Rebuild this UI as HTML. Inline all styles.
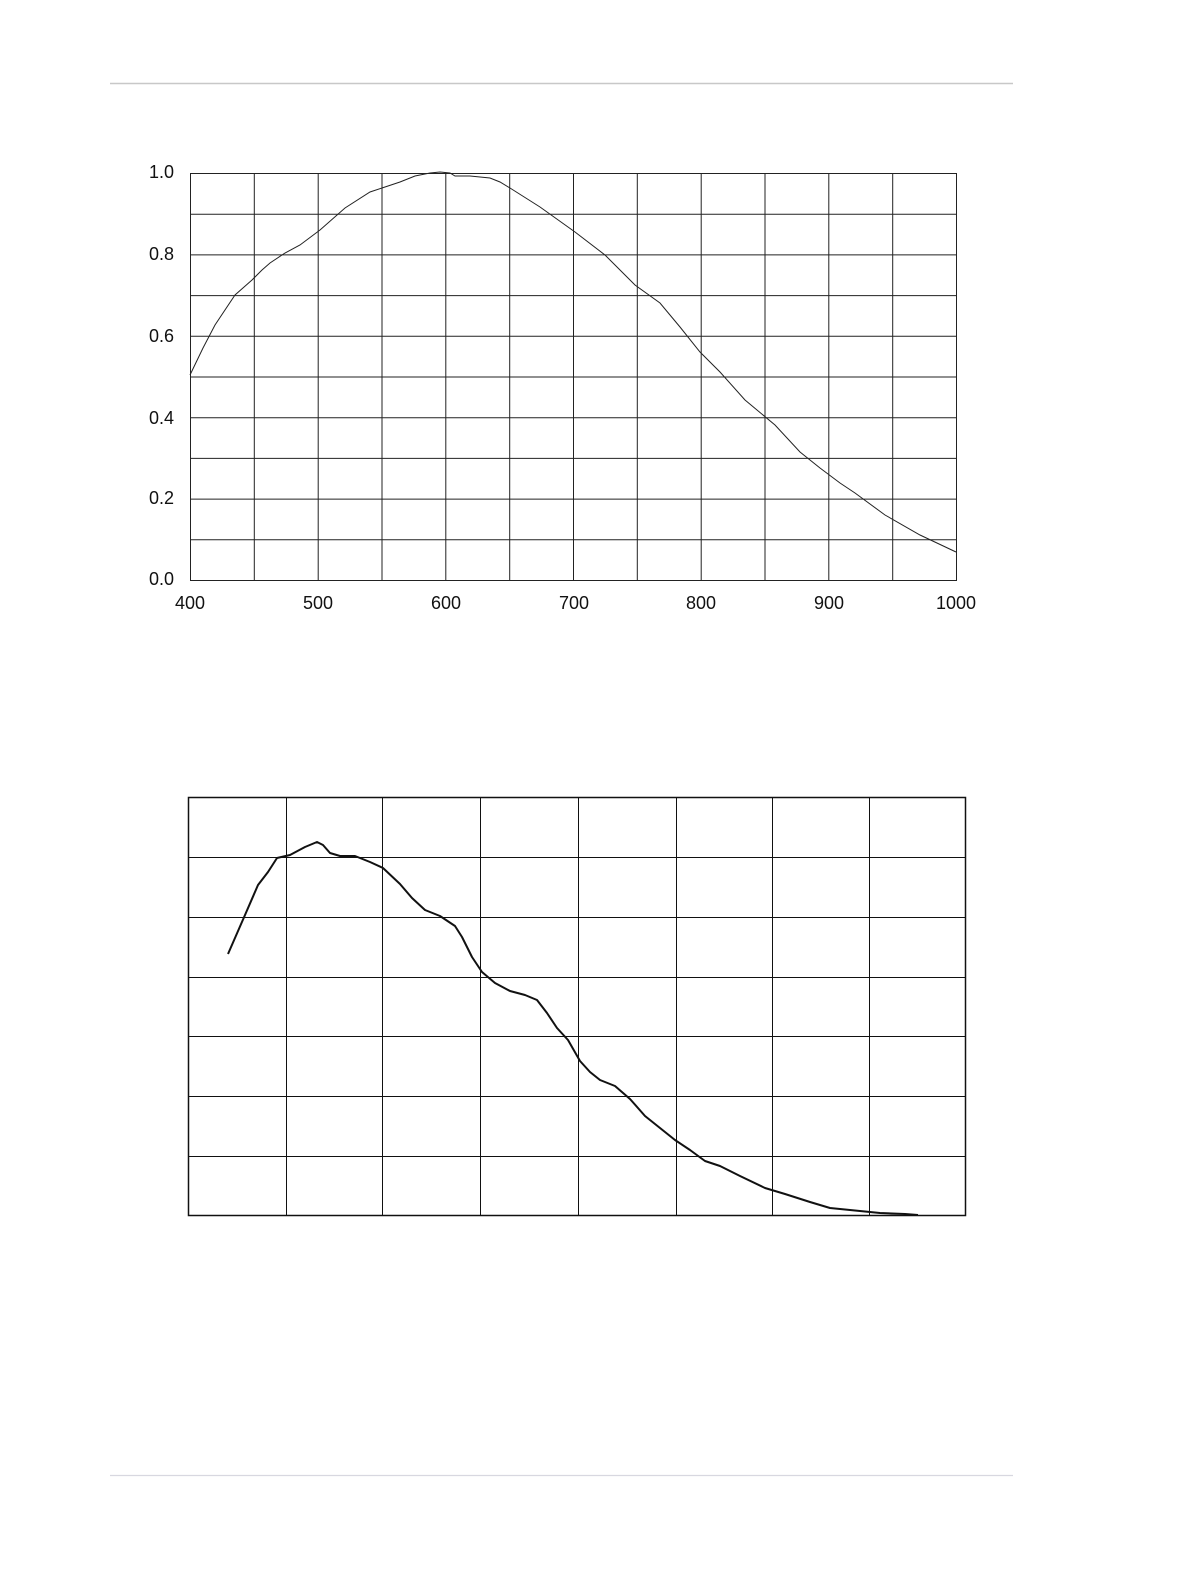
<!DOCTYPE html>
<html><head><meta charset="utf-8"><style>
html,body{margin:0;padding:0;background:#fff;}
svg{display:block;}
text{font-family:"Liberation Sans",Arial,sans-serif;font-size:18px;fill:#111;}
</style></head><body>
<svg width="1190" height="1580" viewBox="0 0 1190 1580" xmlns="http://www.w3.org/2000/svg">
<line x1="110" y1="83.5" x2="1013" y2="83.5" stroke="#c8c8c8" stroke-width="1.5"/>
<line x1="110" y1="1475.5" x2="1013" y2="1475.5" stroke="#d8d8e0" stroke-width="1.2"/>

<g stroke="#222" stroke-width="1" fill="none">
<rect x="190.5" y="173.5" width="766" height="407"/>
<path d="M254.3 173V580M318.2 173V580M382 173V580M445.8 173V580M509.7 173V580M573.5 173V580M637.3 173V580M701.2 173V580M765 173V580M828.8 173V580M892.7 173V580"/>
<path d="M190 214.2H956M190 254.9H956M190 295.6H956M190 336.3H956M190 377H956M190 417.7H956M190 458.4H956M190 499.1H956M190 539.8H956"/>
<polyline stroke-width="1" points="190,375 203,348 215,325 235,295 252,280 262,270 270,263 285,253 300,245 320,230 345,208 370,192 385,187 400,182 415,176 430,173 440,172 450,173 455,176 470,176 490,178 500,182 510,188 540,207 575,232 605,255 620,270 635,285 660,303 680,327 700,352 720,372 745,400 775,425 800,452 820,468 840,483 855,493 885,515 920,535 956,552"/>
</g>
<g text-anchor="end">
<text x="174" y="178">1.0</text><text x="174" y="260">0.8</text><text x="174" y="342">0.6</text>
<text x="174" y="424">0.4</text><text x="174" y="504">0.2</text><text x="174" y="585">0.0</text>
</g>
<g text-anchor="middle">
<text x="190" y="609">400</text><text x="318" y="609">500</text><text x="446" y="609">600</text>
<text x="574" y="609">700</text><text x="701" y="609">800</text><text x="829" y="609">900</text><text x="956" y="609">1000</text>
</g>

<g stroke="#111" fill="none">
<rect x="188.5" y="797.5" width="777" height="418" stroke-width="1.5"/>
<path stroke-width="1" d="M286.5 797V1215M382.5 797V1215M480.5 797V1215M578.5 797V1215M676.5 797V1215M772.5 797V1215M869.5 797V1215"/>
<path stroke-width="1" d="M188 857.5H965M188 917.5H965M188 977.5H965M188 1036.5H965M188 1096.5H965M188 1156.5H965"/>
<polyline stroke-width="2" stroke-linejoin="round" points="228,954 245,915 258,885 268,872 277,858 290,855 305,847 317,842 323,845 330,853 340,856 355,856 370,862 383,868 400,884 412,898 425,910 440,916 455,926 462,937 472,957 482,972 495,983 510,991 525,995 537,1000 547,1013 557,1028 568,1040 580,1061 590,1072 600,1080 615,1086 630,1099 645,1116 660,1128 675,1140 690,1150 705,1161 720,1166 740,1176 765,1188 785,1194 810,1202 830,1208 860,1211 880,1213 905,1214 918,1215"/>
</g>
</svg>
</body></html>
